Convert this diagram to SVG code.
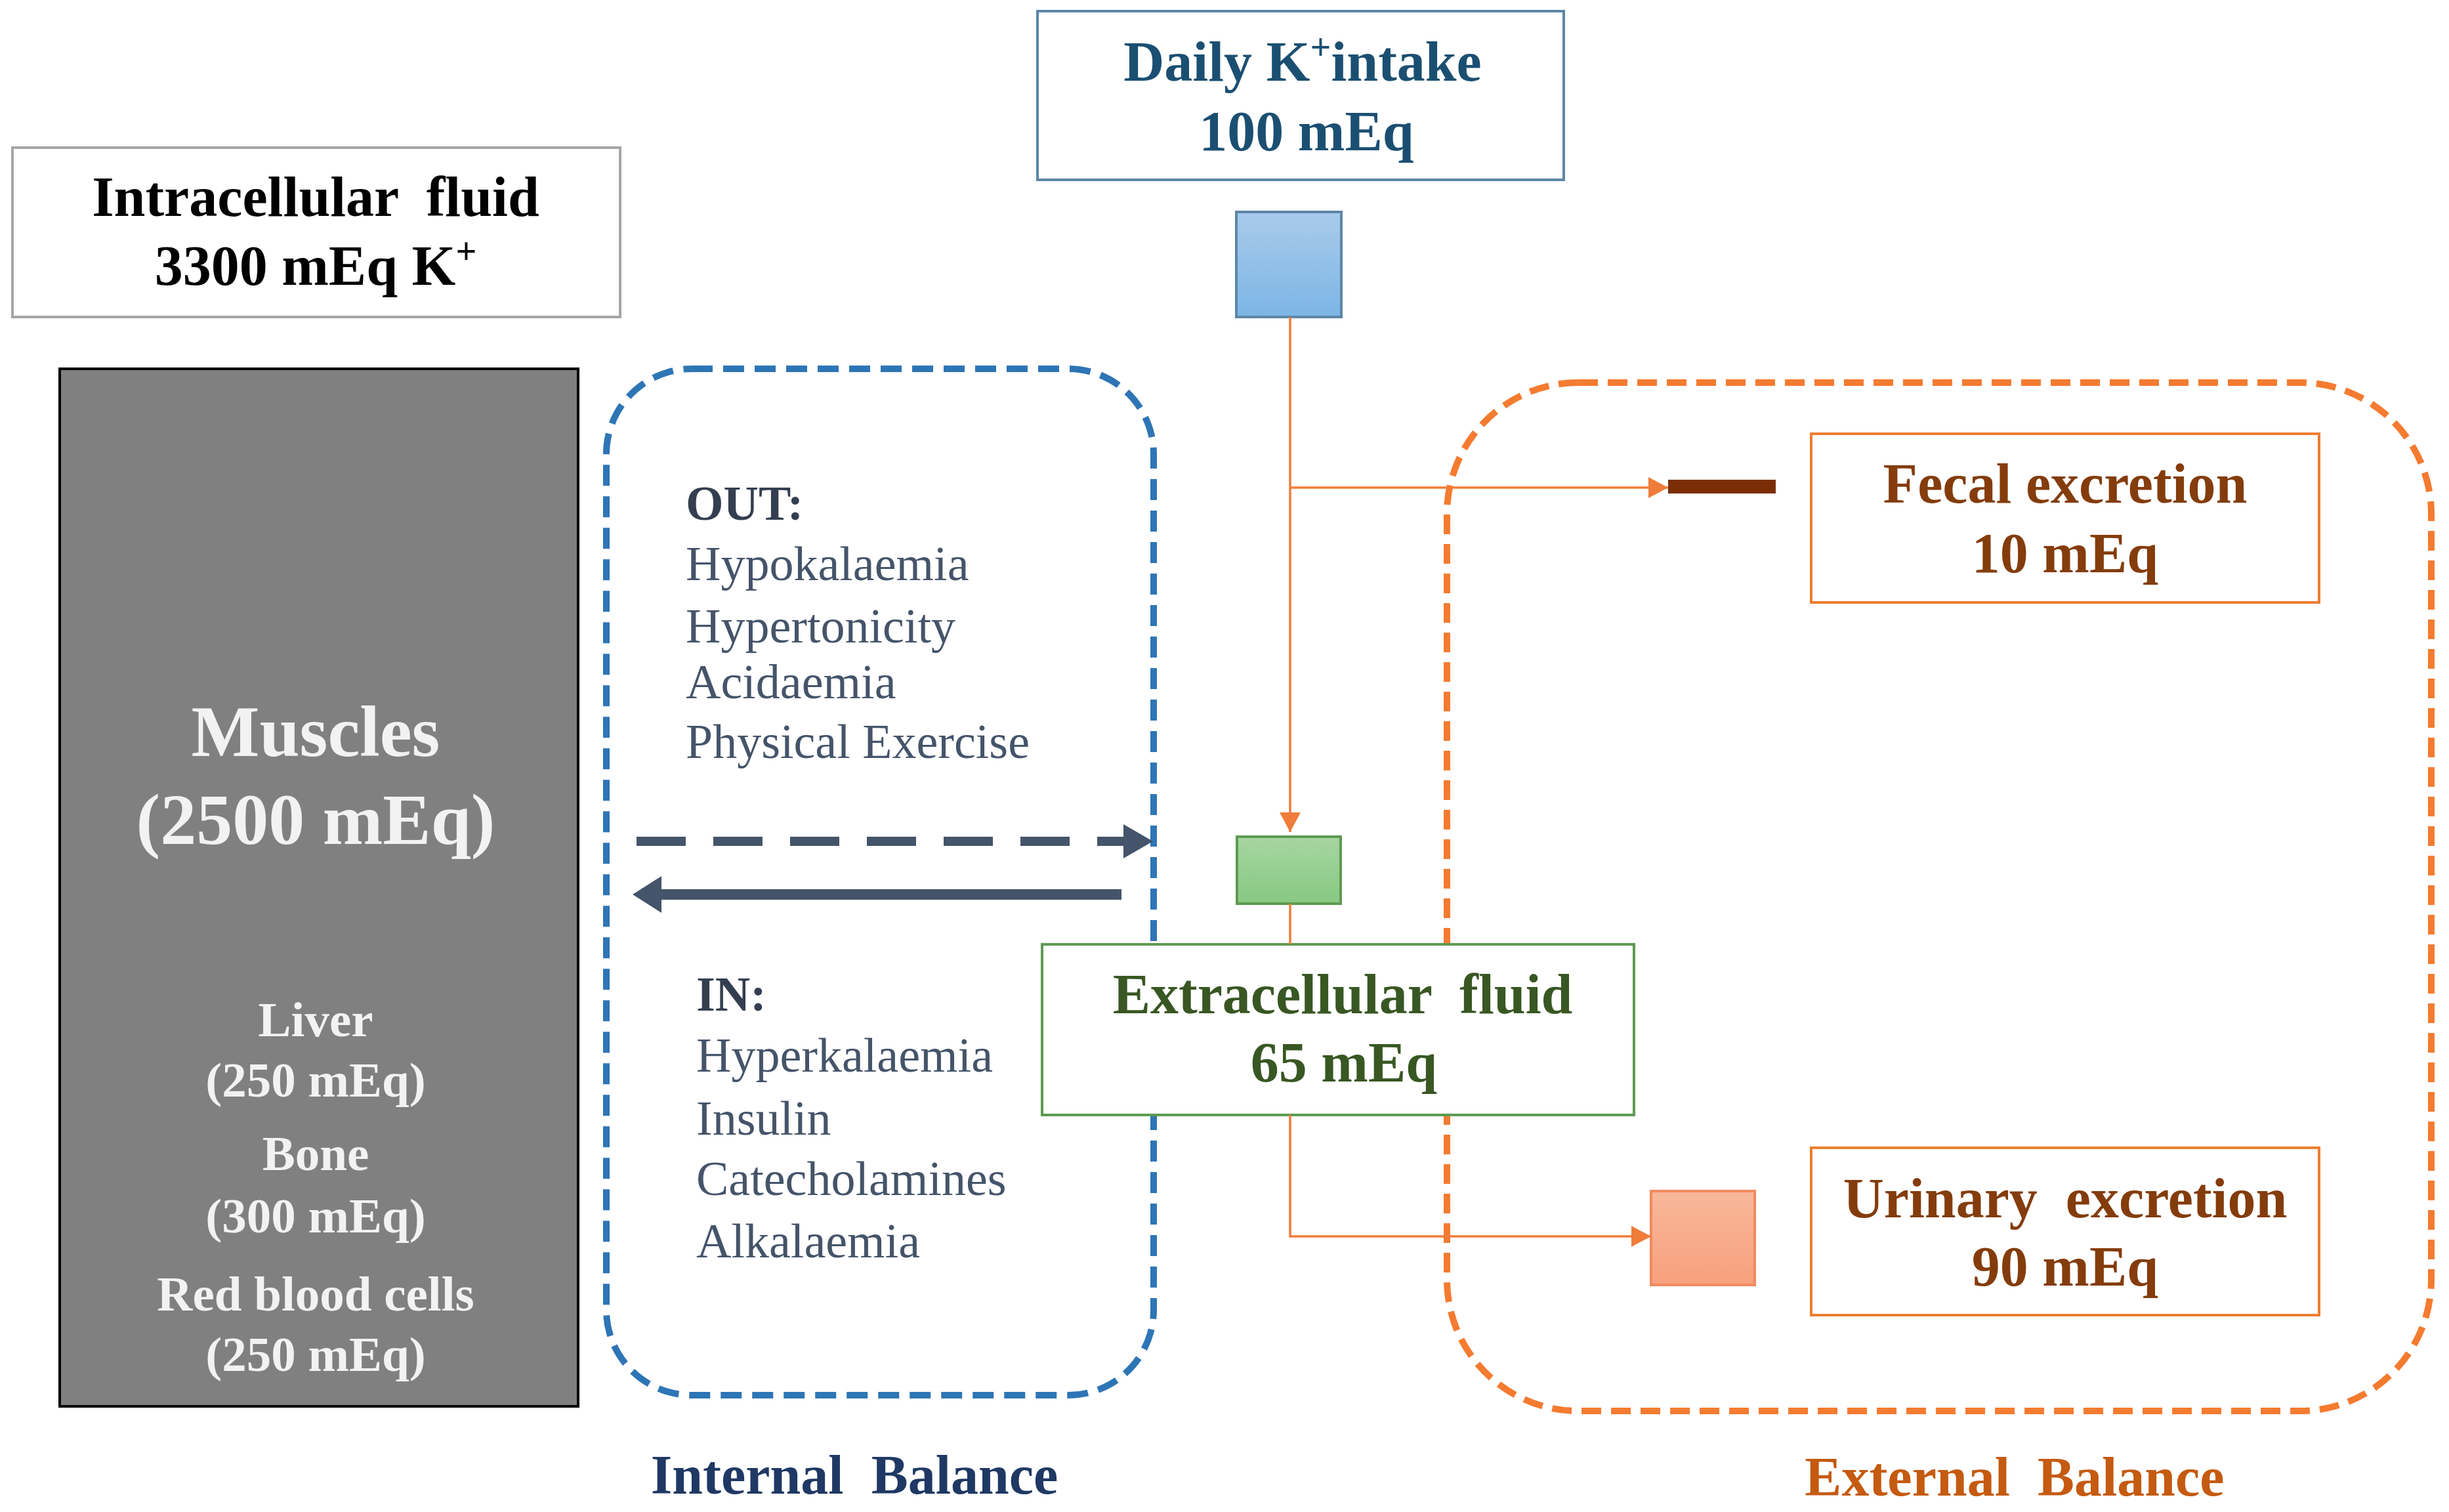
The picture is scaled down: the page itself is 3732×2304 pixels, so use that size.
<svg xmlns="http://www.w3.org/2000/svg" width="3732" height="2304" viewBox="0 0 3732 2304">
<style>
.t{font-family:"Liberation Serif","Times New Roman",serif;font-weight:bold;text-anchor:middle}
.l{font-family:"Liberation Serif","Times New Roman",serif;font-size:74px;fill:#44546A}
.lb{font-family:"Liberation Serif","Times New Roman",serif;font-size:74px;font-weight:bold;fill:#333F50}
.w{fill:#F2F2F2;font-size:75px}
.br{fill:#843C0C;font-size:86px}
.or{fill:none;stroke:#F07C3A;stroke-width:3.5}
</style>
<defs>
<marker id="oa" markerUnits="userSpaceOnUse" markerWidth="34" markerHeight="34" refX="30" refY="16" orient="auto">
<path d="M0,0 L30,16 L0,32 Z" fill="#F07C3A"/>
</marker>
<linearGradient id="gb" x1="0" y1="0" x2="0" y2="1"><stop offset="0" stop-color="#A9CBEA"/><stop offset="1" stop-color="#7DB5E6"/></linearGradient>
<linearGradient id="gg" x1="0" y1="0" x2="0" y2="1"><stop offset="0" stop-color="#A6D6A0"/><stop offset="1" stop-color="#88C884"/></linearGradient>
<linearGradient id="gp" x1="0" y1="0" x2="0" y2="1"><stop offset="0" stop-color="#F8B79A"/><stop offset="1" stop-color="#F7A07C"/></linearGradient>
</defs>
<rect width="3732" height="2304" fill="#FFFFFF"/>

<g id="internal-balance">
<rect x="924" y="562" width="834" height="1564" rx="130" ry="130" fill="none" stroke="#2E75B6" stroke-width="10" stroke-dasharray="32 16"/>
<text class="t" x="1302" y="2276" font-size="84" fill="#1F3864" xml:space="preserve">Internal  Balance</text>
</g>

<g id="external-balance">
<rect x="2205" y="583" width="1500" height="1567" rx="200" ry="200" fill="none" stroke="#F47B30" stroke-width="10" stroke-dasharray="30 15"/>
<text class="t" x="3070" y="2279" font-size="84" fill="#C55A11" xml:space="preserve">External  Balance</text>
</g>

<g id="intracellular">
<rect x="19" y="225" width="926" height="258" fill="#FFFFFF" stroke="#A6A6A6" stroke-width="4"/>
<text class="t" x="481" y="329" font-size="86" fill="#000000" xml:space="preserve">Intracellular  fluid</text>
<text class="t" x="481" y="434" font-size="86" fill="#000000">3300 mEq K<tspan dy="-32" font-size="56">+</tspan></text>
</g>

<g id="muscles">
<rect x="91" y="562" width="790" height="1581" fill="#808080" stroke="#000000" stroke-width="4"/>
<text class="t" x="481" y="1152" font-size="110" fill="#F2F2F2">Muscles</text>
<text class="t" x="481" y="1286" font-size="110" fill="#F2F2F2">(2500 mEq)</text>
<text class="t w" x="481" y="1579">Liver</text>
<text class="t w" x="481" y="1671">(250 mEq)</text>
<text class="t w" x="481" y="1783">Bone</text>
<text class="t w" x="481" y="1878">(300 mEq)</text>
<text class="t w" x="481" y="1997">Red blood cells</text>
<text class="t w" x="481" y="2089">(250 mEq)</text>
</g>

<g id="out-factors">
<text class="lb" x="1045" y="792">OUT:</text>
<text class="l" x="1045" y="884">Hypokalaemia</text>
<text class="l" x="1045" y="979">Hypertonicity</text>
<text class="l" x="1045" y="1064">Acidaemia</text>
<text class="l" x="1045" y="1155">Physical Exercise</text>
</g>

<g id="in-factors">
<text class="lb" x="1061" y="1540">IN:</text>
<text class="l" x="1061" y="1633">Hyperkalaemia</text>
<text class="l" x="1061" y="1729">Insulin</text>
<text class="l" x="1061" y="1821">Catecholamines</text>
<text class="l" x="1061" y="1916">Alkalaemia</text>
</g>

<g id="daily-intake">
<rect x="1581" y="17" width="802" height="257" fill="#FFFFFF" stroke="#5B87A8" stroke-width="4"/>
<text class="t" x="1985" y="123" font-size="86" fill="#1B4F72">Daily K<tspan dy="-32" font-size="56">+</tspan><tspan dy="32">intake</tspan></text>
<text class="t" x="1991" y="229" font-size="86" fill="#1B4F72">100 mEq</text>
</g>

<g id="intake-valve">
<rect x="1884" y="323" width="160" height="160" fill="url(#gb)" stroke="#5B87A8" stroke-width="4"/>
</g>

<g id="ecf-valve">
<rect x="1885" y="1275" width="158" height="102" fill="url(#gg)" stroke="#5E9A52" stroke-width="4"/>
</g>

<g id="extracellular">
<rect x="1588" y="1439" width="902" height="260" fill="#FFFFFF" stroke="#5E9A52" stroke-width="4"/>
<text class="t" x="2046" y="1544" font-size="86" fill="#385723" xml:space="preserve">Extracellular  fluid</text>
<text class="t" x="2048" y="1648" font-size="86" fill="#385723">65 mEq</text>
</g>

<g id="fecal-valve">
<rect x="2542" y="731" width="164" height="21" fill="#7B2E05"/>
</g>

<g id="fecal">
<rect x="2760" y="661" width="774" height="257" fill="#FFFFFF" stroke="#ED7D31" stroke-width="4"/>
<text class="t br" x="3147" y="766">Fecal excretion</text>
<text class="t br" x="3147" y="872">10 mEq</text>
</g>

<g id="urinary-valve">
<rect x="2516" y="1815" width="158" height="143" fill="url(#gp)" stroke="#F28A5E" stroke-width="4"/>
</g>

<g id="urinary">
<rect x="2760" y="1749" width="774" height="255" fill="#FFFFFF" stroke="#ED7D31" stroke-width="4"/>
<text class="t br" x="3147" y="1855" xml:space="preserve">Urinary  excretion</text>
<text class="t br" x="3147" y="1959">90 mEq</text>
</g>

<g id="connectors">
<path class="or" d="M1966,483 V1268" marker-end="url(#oa)"/>
<path class="or" d="M1966,743 H2542" stroke-width="5" marker-end="url(#oa)"/>
<path class="or" d="M1966,1377 V1439"/>
<path class="or" d="M1966,1699 V1884 H2516" stroke-width="5" marker-end="url(#oa)"/>
<line x1="970" y1="1282" x2="1715" y2="1282" stroke="#44546A" stroke-width="14" stroke-dasharray="75 42"/>
<polygon points="1712,1256 1757,1282 1712,1308" fill="#44546A"/>
<line x1="1709" y1="1363" x2="1000" y2="1363" stroke="#44546A" stroke-width="16"/>
<polygon points="1008,1335 964,1363 1008,1391" fill="#44546A"/>
</g>
</svg>
